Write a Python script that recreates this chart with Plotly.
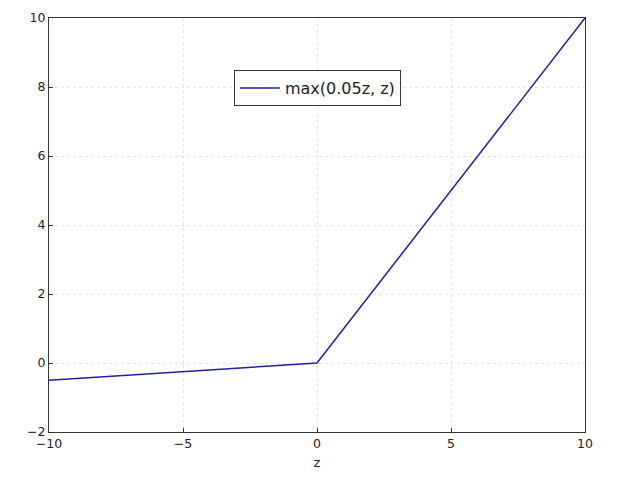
import plotly.graph_objects as go

# data
z = [-10, 0, 10]
y = [-0.5, 0, 10]
series_name = "max(0.05z, z)"
x_ticks = [-10, -5, 0, 5, 10]
y_ticks = [-2, 0, 2, 4, 6, 8, 10]

fig = go.Figure()
fig.add_trace(go.Scatter(x=z, y=y, mode="lines", name=series_name,
                         line=dict(color="#1f1fa8", width=1.5)))

axis_common = dict(
    showline=True, linecolor="#333", linewidth=1, mirror=True,
    ticks="inside", ticklen=4, tickcolor="#333",
    showgrid=True, gridcolor="#e4e4e4", griddash="dot", gridwidth=1,
    zeroline=False, automargin=False,
    tickfont=dict(family="DejaVu Sans", size=12.5, color="#222"),
)

# page body has an 8px margin, so the figure is a bit smaller than the window
fig.update_layout(
    width=603, height=462,
    margin=dict(l=41, r=26, t=10, b=38),
    plot_bgcolor="white", paper_bgcolor="white",
    showlegend=True,
    legend=dict(x=0.345, y=0.874, xanchor="left", yanchor="top",
                bordercolor="#333", borderwidth=1, bgcolor="white",
                itemwidth=40,
                font=dict(family="DejaVu Sans", size=16, color="#222")),
    xaxis=dict(range=[-10, 10], tickvals=x_ticks,
               ticktext=["\u221210", "\u22125", "0", "5", "10"],
               title=dict(text="z", font=dict(family="DejaVu Sans", size=13, color="#222"), standoff=10),
               **axis_common),
    yaxis=dict(range=[-2, 10], tickvals=y_ticks,
               ticktext=["\u22122", "0", "2", "4", "6", "8", "10"],
               **axis_common),
)

fig.write_html("out.html")
